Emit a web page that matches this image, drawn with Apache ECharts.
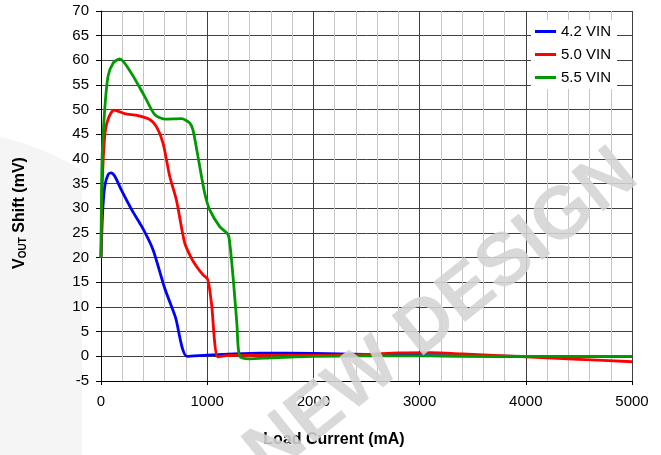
<!DOCTYPE html>
<html>
<head>
<meta charset="utf-8">
<script src="https://cdn.jsdelivr.net/npm/echarts@6/dist/echarts.min.js"></script>
<style>
html,body{margin:0;padding:0;background:#fff;}
#chart{width:661px;height:455px;}
</style>
</head>
<body>
<div id="chart"></div>
<script>
// ---- data ----
const seriesNames = ['4.2 VIN', '5.0 VIN', '5.5 VIN'];
const seriesColors = ['#0000FF', '#FF0000', '#009900'];

const current42 = [0, 15, 35, 66, 95, 130, 190, 290, 400, 490, 600, 700, 810, 1000, 1200, 1500, 2000, 2500, 3000, 3500, 4000, 4500, 5000];
const shift42   = [20, 29, 34.4, 36.8, 37.2, 36.5, 33.8, 29.7, 25.7, 21.6, 13.8, 8.0, 0, 0.25, 0.45, 0.65, 0.6, 0.4, 0.2, 0.05, 0, 0, 0];

const current50 = [0, 12, 35, 66, 122, 223, 349, 459, 521, 584, 647, 710, 788, 851, 900, 961, 1005, 1040, 1102, 1212, 1500, 2000, 2500, 2800, 3100, 3400, 3700, 4000, 4500, 5000];
const shift50   = [20, 35, 44.6, 48, 49.9, 49.2, 48.8, 48, 46.6, 43.2, 36.5, 31.7, 23, 19.9, 18.2, 16.5, 15.6, 10.8, -0.1, 0.2, 0.2, 0.2, 0.4, 0.7, 0.75, 0.5, 0.2, -0.1, -0.6, -1.1];

const current55 = [0, 10, 35, 66, 116, 176, 286, 411, 506, 600, 757, 835, 866, 913, 976, 1024, 1118, 1196, 1215, 1250, 1280, 1306, 1400, 1600, 2000, 3000, 4000, 5000];
const shift55   = [20, 40, 50, 56.7, 59.5, 60.3, 57.4, 52.7, 49, 48.1, 48.2, 47.3, 45.9, 40.5, 33.1, 29.7, 26.3, 24.7, 22.5, 14.5, 6.5, 0, -0.5, -0.3, 0, 0.1, 0, 0];

const xTicks = [0, 1000, 2000, 3000, 4000, 5000];
const yTicks = [-5, 0, 5, 10, 15, 20, 25, 30, 35, 40, 45, 50, 55, 60, 65, 70];

// ---- chart ----
const FONT = 'Liberation Sans, Arial, sans-serif';
const zip = (xs, ys) => xs.map((x, i) => [x, ys[i]]);
const allX = [current42, current50, current55];
const allY = [shift42, shift50, shift55];

// left light-grey background shape
const bgPts = [];
for (let x = 0; x <= 82; x += 2) {
  bgPts.push([x, 400 - Math.sqrt(270 * 270 - (x + 60) * (x + 60))]);
}
bgPts.push([82, 455], [0, 455]);

const chart = echarts.init(document.getElementById('chart'), null, {renderer: 'canvas'});
chart.setOption({
  animation: false,
  backgroundColor: '#fff',
  grid: {left: 101, right: 29, top: 11, bottom: 74, containLabel: false},
  legend: {
    orient: 'vertical',
    left: 531, top: 20,
    padding: [4, 6, 4, 4],
    itemGap: 8,
    itemWidth: 21, itemHeight: 3,
    icon: 'rect',
    backgroundColor: '#fff',
    textStyle: {fontFamily: FONT, fontSize: 15, color: '#000', lineHeight: 15},
    data: seriesNames
  },
  xAxis: {
    type: 'value',
    min: xTicks[0], max: xTicks[xTicks.length - 1], interval: 1000,
    axisLine: {show: true, onZero: false, lineStyle: {color: '#000', width: 1}},
    axisTick: {show: true, length: 4, lineStyle: {color: '#000'}},
    axisLabel: {fontFamily: FONT, fontSize: 15, color: '#000', margin: 13, formatter: v => String(v)},
    splitLine: {show: true, lineStyle: {color: '#404040', width: 1}},
    minorTick: {show: false, splitNumber: 5},
    minorSplitLine: {show: true, lineStyle: {color: '#c4c4c4', width: 1}}
  },
  yAxis: {
    type: 'value',
    min: yTicks[0], max: yTicks[yTicks.length - 1], interval: 5,
    axisLine: {show: true, onZero: false, lineStyle: {color: '#000', width: 1}},
    axisTick: {show: true, length: 5, lineStyle: {color: '#000'}},
    axisLabel: {fontFamily: FONT, fontSize: 15, color: '#000', margin: 12, formatter: v => String(v)},
    splitLine: {show: true, lineStyle: {color: '#404040', width: 1}}
  },
  series: seriesNames.map((name, i) => ({
    name: name,
    type: 'line',
    data: zip(allX[i], allY[i]),
    symbol: 'none',
    smooth: 0.25,
    lineStyle: {color: seriesColors[i], width: 2.8},
    itemStyle: {color: seriesColors[i]},
    z: 3 + i
  })),
  graphic: [
    {
      type: 'polygon', z: -10, silent: true,
      shape: {points: bgPts},
      style: {fill: '#f5f5f5'}
    },
    {
      type: 'text', z: 100, silent: true,
      x: 20, y: 213, rotation: Math.PI / 2,
      style: {
        text: '{v|V}{s|OUT}{v| Shift (mV)}',
        align: 'center', verticalAlign: 'middle',
        rich: {
          v: {fontFamily: FONT, fontSize: 16, fontWeight: 'bold', fill: '#000', color: '#000'},
          s: {fontFamily: FONT, fontSize: 10, fontWeight: 'bold', fill: '#000', color: '#000', verticalAlign: 'bottom'}
        }
      }
    },
    {
      type: 'text', z: 100, silent: true,
      x: 334, y: 440,
      style: {
        text: 'Load Current (mA)',
        fontFamily: FONT, fontSize: 16, fontWeight: 'bold', fill: '#000',
        align: 'center', verticalAlign: 'middle'
      }
    },
    {
      type: 'text', z: 200, silent: true,
      x: 442, y: 314, rotation: 0.675,
      style: {
        text: 'NEW DESIGN',
        fontFamily: FONT, fontSize: 74, fontWeight: 'bold',
        fill: 'rgba(212,212,212,0.88)',
        align: 'center', verticalAlign: 'middle'
      }
    }
  ]
});
</script>
</body>
</html>
